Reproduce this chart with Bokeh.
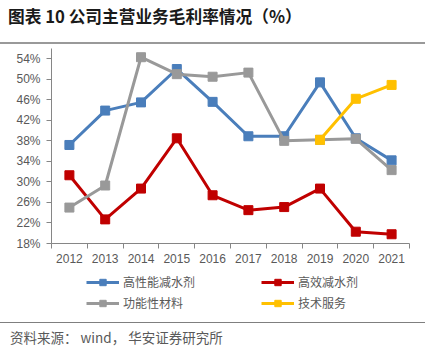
from bokeh.plotting import figure
from bokeh.models import (Range1d, FixedTicker, Legend, LegendItem, Div,
                          PrintfTickFormatter)
from bokeh.layouts import column
from bokeh.embed import file_html
from bokeh.resources import INLINE

years = ["2012", "2013", "2014", "2015", "2016", "2017", "2018", "2019", "2020", "2021"]
high_perf = [37.2, 43.9, 45.5, 52.0, 45.6, 38.9, 38.9, 49.4, 38.5, 34.2]
high_eff = [31.3, 22.7, 28.7, 38.5, 27.4, 24.5, 25.1, 28.7, 20.3, 19.8]
functional = [25.0, 29.3, 54.3, 51.0, 50.5, 51.3, 38.0, 38.2, 38.4, 32.3]
tech_years = ["2019", "2020", "2021"]
tech_service = [38.2, 46.2, 48.9]
y_ticks = [18, 22, 26, 30, 34, 38, 42, 46, 50, 54]

names = ["高性能减水剂", "高效减水剂", "功能性材料", "技术服务"]
colors = ["#4A7EBB", "#C00000", "#999999", "#FFC000"]
title_text = "图表 10 公司主营业务毛利率情况（%）"
source_text = "资料来源： wind， 华安证券研究所"

W = 435
title_div = Div(
    text=f"<div style='font-family:\"Noto Sans CJK SC\";font-size:16.7px;font-weight:bold;"
         f"color:#1a1a1a;padding:5px 0 0 8px;height:37px;width:417px;"
         f"border-bottom:2px solid #999999;box-sizing:content-box;white-space:nowrap'>{title_text}</div>",
    width=W, height=44, margin=0)

p = figure(width=W, height=224, output_backend="svg", toolbar_location=None,
           x_range=Range1d(-0.5, len(years) - 0.5), y_range=Range1d(18, 56),
           min_border_left=51, min_border_right=26, min_border_top=4,
           min_border_bottom=25, outline_line_color=None, margin=0)
p.grid.visible = False

xs = list(range(len(years)))
series = [
    (xs, high_perf),
    (xs, high_eff),
    (xs, functional),
    ([years.index(y) for y in tech_years], tech_service),
]
for (x, y), c in zip(series, colors):
    p.line(x, y, line_color=c, line_width=3)
    p.scatter(x, y, marker="square", size=9, fill_color=c, line_color=c)

ax = p.xaxis[0]
ax.ticker = FixedTicker(ticks=xs, minor_ticks=[i - 0.5 for i in range(len(years) + 1)])
ax.major_label_overrides = {i: y for i, y in enumerate(years)}
ax.major_tick_out = 0
ax.major_tick_in = 0
ax.minor_tick_out = 5
ax.minor_tick_in = 0
ax.minor_tick_line_color = "#868686"
ax.axis_line_color = "#868686"
ax.major_label_text_font = "Liberation Sans"
ax.major_label_text_font_size = "12px"
ax.major_label_text_color = "#595959"
ax.major_label_standoff = 5

ay = p.yaxis[0]
ay.ticker = FixedTicker(ticks=y_ticks, minor_ticks=[])
ay.formatter = PrintfTickFormatter(format="%d%%")
ay.major_tick_out = 5
ay.major_tick_in = 0
ay.major_tick_line_color = "#868686"
ay.axis_line_color = "#868686"
ay.major_label_text_font = "Liberation Sans"
ay.major_label_text_font_size = "12px"
ay.major_label_text_color = "#595959"
ay.major_label_standoff = 6

# legend-only figure (series renderers kept out of view; only the legend shows)
lf = figure(width=W, height=54, output_backend="svg", toolbar_location=None,
            x_range=Range1d(100, 101), y_range=Range1d(100, 101),
            x_axis_type=None, y_axis_type=None, outline_line_color=None,
            min_border=0, margin=0)
lf.grid.visible = False
rends = {}
for (x, y), name, c in zip(series, names, colors):
    r1 = lf.line(x, y, line_color=c, line_width=3)
    r2 = lf.scatter(x, y, marker="square", size=9, fill_color=c, line_color=c)
    rends[name] = [r1, r2]
order = [names[0], names[2], names[1], names[3]]  # column-major fill -> rows match reference
items = [LegendItem(label=n, renderers=rends[n]) for n in order]
leg = Legend(items=items, ncols=2, location=(35, 11),
             glyph_width=33, glyph_height=16, label_standoff=4, label_width=134,
             spacing=4, padding=0, margin=0, border_line_alpha=0,
             background_fill_alpha=0, label_text_font="Noto Sans CJK SC",
             label_text_font_size="12px", label_text_color="#595959")
lf.add_layout(leg, "center")

source_div = Div(
    text=f"<div style='font-family:\"Noto Sans CJK SC\";font-size:13.5px;color:#595959;"
         f"padding:5px 0 0 10px;width:415px;height:23px;"
         f"border-top:1px solid #7f7f7f;box-sizing:content-box;white-space:pre'>{source_text}</div>",
    width=W, height=29, margin=0)

layout = column(title_div, p, lf, source_div, spacing=0, margin=0)
open("out.html", "w").write(file_html(layout, INLINE))
